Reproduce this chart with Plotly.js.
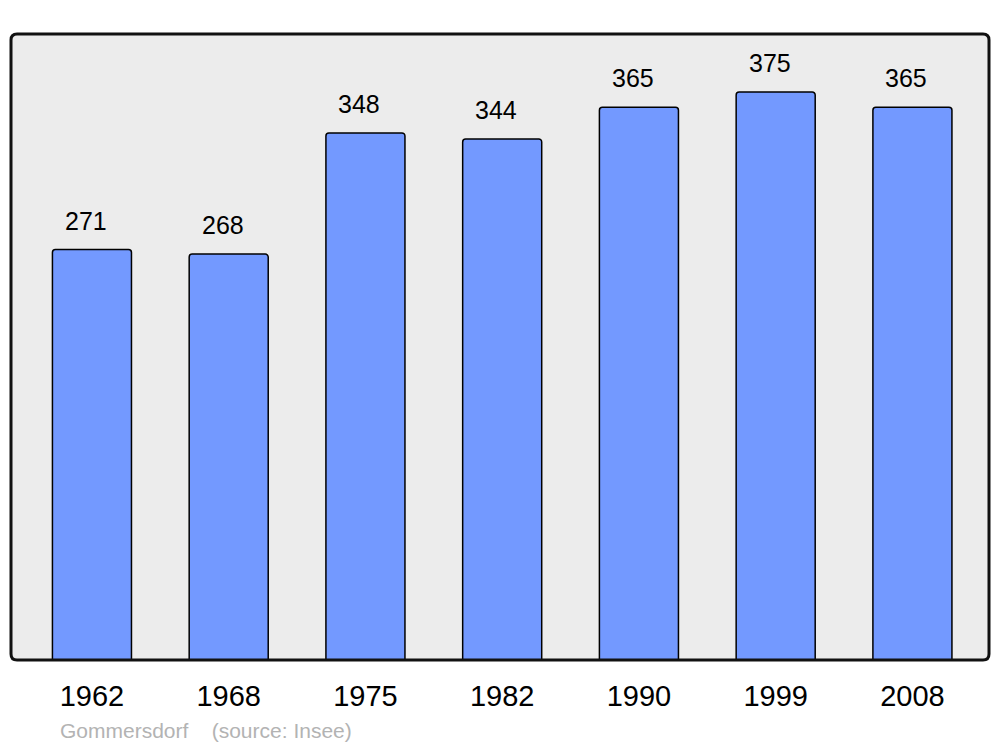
<!DOCTYPE html>
<html>
<head>
<meta charset="utf-8">
<script src="https://cdn.plot.ly/plotly-3.0.1.min.js"></script>
<style>html,body{margin:0;padding:0;background:#fff;}#chart{width:1000px;height:747px;}</style>
</head>
<body>
<div id="chart"></div>
<script>
const years = ["1962","1968","1975","1982","1990","1999","2008"];
const population = [271, 268, 348, 344, 365, 375, 365];
const sourceText = "Gommersdorf\u00A0\u00A0\u00A0\u00A0(source: Insee)";

const W = 978, H = 626, R = 6;
const rx = R / W, ry = R / H;
function roundRect() {
  return `M ${rx} 0 L ${1 - rx} 0 Q 1 0 1 ${ry} L 1 ${1 - ry} Q 1 1 ${1 - rx} 1 L ${rx} 1 Q 0 1 0 ${1 - ry} L 0 ${ry} Q 0 0 ${rx} 0 Z`;
}

const trace = {
  type: 'bar',
  x: years,
  y: population,
  width: 0.578,
  marker: { color: '#7399ff', line: { color: '#000', width: 1.5 }, cornerradius: 3 },
  hoverinfo: 'none'
};

const annotations = years.map((yr, i) => ({
  x: i, y: population[i], xref: 'x', yref: 'y',
  text: String(population[i]), showarrow: false,
  yanchor: 'bottom', yshift: 13, xshift: -6,
  font: { family: 'Liberation Sans, Arial, sans-serif', size: 25, color: '#000' }
}));
annotations.push({
  x: (58 - 11) / W, y: (660 - 730) / H, xref: 'paper', yref: 'paper',
  xanchor: 'left', yanchor: 'middle', showarrow: false,
  text: sourceText,
  font: { family: 'Liberation Sans, Arial, sans-serif', size: 21, color: '#b3b3b3' }
});

const layout = {
  width: 1000, height: 747,
  margin: { l: 11, r: 11, t: 34, b: 87 },
  paper_bgcolor: '#fff', plot_bgcolor: 'rgba(0,0,0,0)',
  showlegend: false,
  xaxis: {
    type: 'category', range: [-0.592, 6.56], showgrid: false, zeroline: false,
    showline: false, ticks: '', ticklabelstandoff: 16,
    tickfont: { family: 'Liberation Sans, Arial, sans-serif', size: 29, color: '#000' },
    fixedrange: true
  },
  yaxis: {
    range: [0, 413.3], showgrid: false, zeroline: false, showline: false,
    showticklabels: false, ticks: '', fixedrange: true
  },
  shapes: [
    { type: 'path', xref: 'paper', yref: 'paper', path: roundRect(), fillcolor: '#ececec', line: { width: 0 }, layer: 'below' },
    { type: 'path', xref: 'paper', yref: 'paper', path: roundRect(), fillcolor: 'rgba(0,0,0,0)', line: { color: '#111', width: 3 }, layer: 'above' }
  ],
  annotations: annotations
};

Plotly.newPlot('chart', [trace], layout, { staticPlot: true });
</script>
</body>
</html>
